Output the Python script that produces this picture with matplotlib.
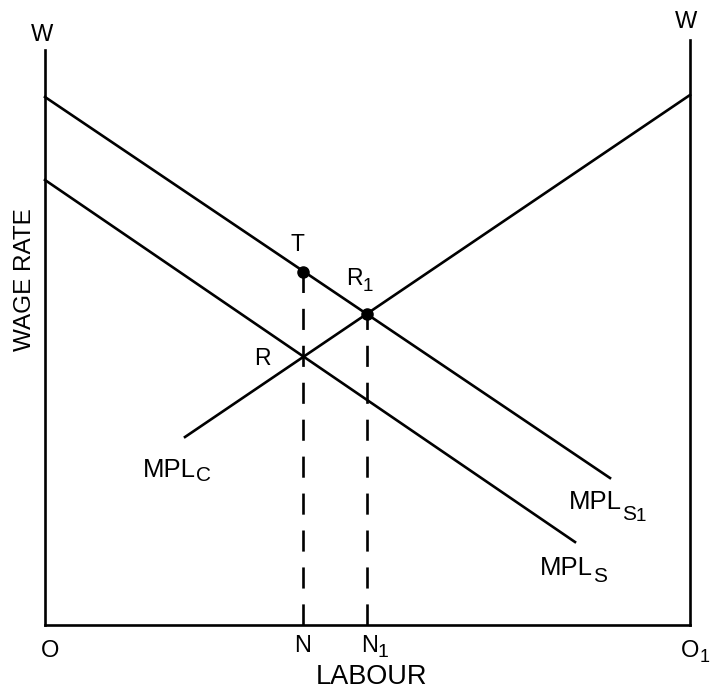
import matplotlib
matplotlib.use("Agg")
import matplotlib.pyplot as plt
from matplotlib.transforms import offset_copy

REG = ['Liberation Sans', 'DejaVu Sans']
plt.rcParams['font.family'] = REG

# Axes frame (labour from O to O1, wage height)
labour_max = 645
left_axis_top = 575
right_axis_top = 585

# Curves: (x0, y0) -> (x1, y1)
mpl_s1_x = [0, 565]
mpl_s1_y = [528, 147]
mpl_s_x = [0, 530]
mpl_s_y = [445, 83]
mpl_c_x = [140, 645]
mpl_c_y = [188, 530]

# Key points
T_pt = (258, 353)
R1_pt = (322, 311)
R_pt = (258, 268)

fig = plt.figure(figsize=(7.12, 6.89), dpi=100)
ax = fig.add_axes([0, 0, 1, 1])
ax.set_xlim(-45, 667)
ax.set_ylim(-64, 625)
ax.axis('off')
renderer = fig.canvas.get_renderer()

lw = 1.9
k = 'black'
ax.plot([0, 0], [0, left_axis_top], color=k, lw=lw)
ax.plot([labour_max, labour_max], [0, right_axis_top], color=k, lw=lw)
ax.plot([0, labour_max], [0, 0], color=k, lw=lw)

ax.plot(mpl_s1_x, mpl_s1_y, color=k, lw=lw)
ax.plot(mpl_s_x, mpl_s_y, color=k, lw=lw)
ax.plot(mpl_c_x, mpl_c_y, color=k, lw=lw)

for p in (T_pt, R1_pt):
    ax.plot([p[0], p[0]], [0, p[1]], color=k, lw=lw, linestyle=(0, (8, 6)))

ax.plot([T_pt[0], R1_pt[0]], [T_pt[1], R1_pt[1]], 'o', color=k, ms=8, linestyle='none')


def label(x, y, main, subs=(), size=17, ha='left'):
    """main text with left edge x, baseline y; subs = list of (text, size, drop_px)."""
    t = ax.text(x, y, main, ha=ha, va='baseline', fontsize=size, color=k)
    bb = t.get_window_extent(renderer)
    dx = bb.width if ha == 'left' else bb.width / 2
    for s, ssize, drop in subs:
        tr = offset_copy(ax.transData, fig=fig, x=dx, y=-drop, units='dots')
        st = ax.text(x, y, s, ha='left', va='baseline', fontsize=ssize,
                     color=k, transform=tr)
        dx += st.get_window_extent(renderer).width
    return t

msz = 18.5
ssz = 15

label(-3, 584, 'W', size=17, ha='center')
label(641, 597, 'W', size=17, ha='center')
ax.text(-20, 345, 'WAGE RATE', rotation=90, ha='center', va='center', fontsize=17.5, color=k)
label(252, 374, 'T', size=16.5, ha='center')
label(301, 340, 'R', [('1', 13.5, 6)], size=16.5)
label(217, 260, 'R', size=16.5, ha='center')
label(98, 148, 'MPL', [('C', ssz, 4)], size=msz)
label(524, 116, 'MPL', [('S', ssz, 11), ('1', ssz - 1.5, 12)], size=msz)
label(495, 50, 'MPL', [('S', ssz, 7)], size=msz)
label(5, -32, 'O', size=17, ha='center')
label(258, -27, 'N', size=17, ha='center')
label(316, -27, 'N', [('1', 14, 5)], size=17)
label(636, -32, 'O', [('1', 13, 5)], size=17)
ax.text(327, -52, 'LABOUR', ha='center', va='center', fontsize=19.5, color=k)

fig.savefig('out.png', dpi=100)
